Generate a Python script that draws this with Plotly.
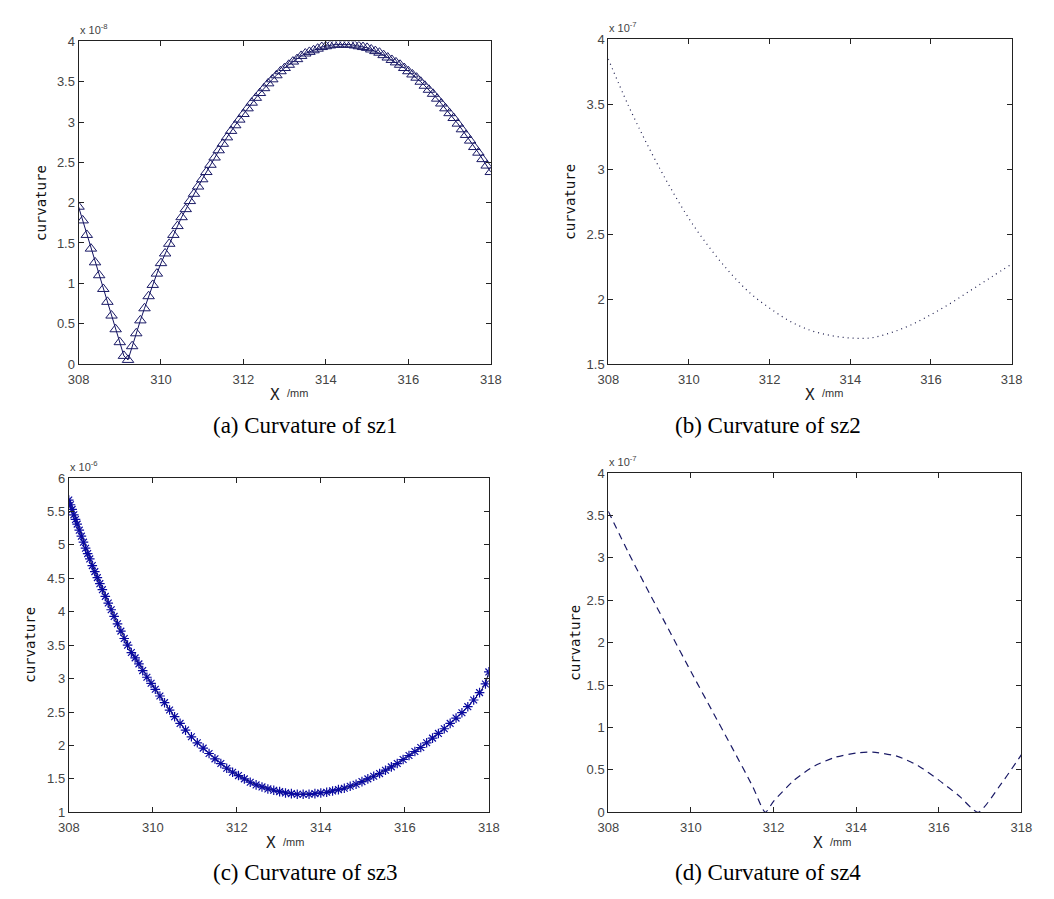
import plotly.graph_objects as go

# ---------------- data (y values in units of the axis exponent) ----------------
# (a) sz1, y in 1e-8
x_sz1 = [308.0, 308.1, 308.2, 308.3, 308.4, 308.5, 308.6, 308.7, 308.8, 308.9,
         309.0, 309.1, 309.2, 309.3, 309.4, 309.5, 309.6, 309.7, 309.8, 309.9,
         310.0, 310.1, 310.2, 310.3, 310.4, 310.5, 310.6, 310.7, 310.8, 310.9,
         311.0, 311.1, 311.2, 311.3, 311.4, 311.5, 311.6, 311.7, 311.8, 311.9,
         312.0, 312.1, 312.2, 312.3, 312.4, 312.5, 312.6, 312.7, 312.8, 312.9,
         313.0, 313.1, 313.2, 313.3, 313.4, 313.5, 313.6, 313.7, 313.8, 313.9,
         314.0, 314.1, 314.2, 314.3, 314.4, 314.5, 314.6, 314.7, 314.8, 314.9,
         315.0, 315.1, 315.2, 315.3, 315.4, 315.5, 315.6, 315.7, 315.8, 315.9,
         316.0, 316.1, 316.2, 316.3, 316.4, 316.5, 316.6, 316.7, 316.8, 316.9,
         317.0, 317.1, 317.2, 317.3, 317.4, 317.5, 317.6, 317.7, 317.8, 317.9,
         318.0]
curv_sz1 = [1.95, 1.78, 1.60, 1.43, 1.26, 1.10, 0.93, 0.77, 0.60, 0.43,
            0.27, 0.10, 0.05, 0.22, 0.38, 0.54, 0.69, 0.84, 0.98, 1.12,
            1.25, 1.37, 1.49, 1.60, 1.71, 1.82, 1.92, 2.02, 2.11, 2.20,
            2.29, 2.38, 2.47, 2.56, 2.65, 2.73, 2.81, 2.89, 2.96, 3.03,
            3.10, 3.17, 3.24, 3.30, 3.36, 3.42, 3.48, 3.53, 3.58, 3.63,
            3.67, 3.71, 3.75, 3.78, 3.82, 3.85, 3.87, 3.89, 3.91, 3.93,
            3.94, 3.95, 3.96, 3.96, 3.96, 3.96, 3.96, 3.95, 3.94, 3.93,
            3.92, 3.90, 3.88, 3.86, 3.83, 3.80, 3.77, 3.74, 3.71, 3.67,
            3.63, 3.59, 3.55, 3.50, 3.45, 3.40, 3.35, 3.29, 3.23, 3.17,
            3.11, 3.05, 2.98, 2.91, 2.84, 2.77, 2.69, 2.62, 2.54, 2.46,
            2.38]

# (b) sz2, y in 1e-7
x_sz2 = [308.0, 308.5, 309.0, 309.5, 310.0, 310.5, 311.0, 311.5, 312.0, 312.5,
         313.0, 313.5, 314.0, 314.5, 315.0, 315.5, 316.0, 316.5, 317.0, 317.5, 318.0]
curv_sz2 = [3.85, 3.49, 3.17, 2.88, 2.62, 2.40, 2.21, 2.05, 1.93, 1.83,
            1.76, 1.72, 1.70, 1.70, 1.74, 1.80, 1.88, 1.97, 2.07, 2.17, 2.27]

# (c) sz3, y in 1e-6
x_sz3 = [308.00, 308.04, 308.08, 308.12, 308.16, 308.20, 308.25, 308.30, 308.35, 308.40,
         308.45, 308.50, 308.56, 308.62, 308.68, 308.74, 308.80, 308.87, 308.94, 309.01,
         309.08, 309.16, 309.24, 309.32, 309.40, 309.49, 309.58, 309.67, 309.76, 309.86,
         309.96, 310.06, 310.17, 310.28, 310.40, 310.52, 310.65, 310.78, 310.92, 311.06,
         311.20, 311.34, 311.48, 311.62, 311.76, 311.90, 312.04, 312.18, 312.32, 312.46,
         312.60, 312.74, 312.88, 313.02, 313.16, 313.30, 313.44, 313.58, 313.72, 313.86,
         314.00, 314.14, 314.28, 314.42, 314.56, 314.70, 314.84, 314.98, 315.12, 315.26,
         315.40, 315.54, 315.68, 315.82, 315.96, 316.10, 316.24, 316.38, 316.52, 316.66,
         316.80, 316.94, 317.08, 317.22, 317.36, 317.50, 317.64, 317.78, 317.92, 318.00]
curv_sz3 = [5.67, 5.60, 5.53, 5.45, 5.38, 5.31, 5.22, 5.13, 5.04, 4.95,
            4.87, 4.79, 4.69, 4.60, 4.51, 4.42, 4.33, 4.23, 4.13, 4.03,
            3.93, 3.82, 3.71, 3.60, 3.50, 3.39, 3.31, 3.22, 3.12, 3.02,
            2.93, 2.84, 2.74, 2.64, 2.53, 2.43, 2.33, 2.23, 2.13, 2.04,
            1.96, 1.88, 1.80, 1.73, 1.66, 1.60, 1.55, 1.50, 1.45, 1.41,
            1.38, 1.35, 1.33, 1.31, 1.29, 1.28, 1.27, 1.27, 1.27, 1.28,
            1.29, 1.30, 1.32, 1.34, 1.36, 1.39, 1.42, 1.46, 1.50, 1.54,
            1.58, 1.63, 1.68, 1.73, 1.79, 1.85, 1.91, 1.97, 2.04, 2.11,
            2.18, 2.25, 2.33, 2.41, 2.49, 2.58, 2.68, 2.79, 2.92, 3.10]

# (d) sz4, y in 1e-7
x_sz4 = [308.0, 308.5, 309.0, 309.5, 310.0, 310.5, 311.0, 311.5, 311.8, 312.0,
         312.5, 313.0, 313.5, 314.0, 314.4, 315.0, 315.5, 316.0, 316.5, 316.95,
         317.5, 318.0]
curv_sz4 = [3.55, 3.05, 2.58, 2.12, 1.66, 1.21, 0.76, 0.30, 0.00, 0.13,
            0.38, 0.55, 0.65, 0.70, 0.71, 0.66, 0.55, 0.38, 0.19, 0.00,
            0.33, 0.68]

x_ticks = [308, 310, 312, 314, 316, 318]
captions = ["(a) Curvature of sz1", "(b) Curvature of sz2",
            "(c) Curvature of sz3", "(d) Curvature of sz4"]
exponents = ["-8", "-7", "-6", "-7"]
y_ranges = [[0, 4], [1.5, 4], [1, 6], [0, 4]]

# ---------------- layout geometry (pixels) ----------------
W, H = 1054, 899
boxes = [  # left, right, top, bottom
    (69, 490, 35, 363),
    (610, 1022, 33, 363),
    (59, 488, 479, 819),
    (610, 1032, 474, 819),
]
ytitle_x = [30, 571, 20, 576]
xtitle_dx = [-10, 0, -8, 3]


def px(x):
    return x / W


def py(y):
    return 1 - y / H


fig = go.Figure()

navy = "#1a1a66"
fig.add_trace(go.Scatter(x=x_sz1, y=curv_sz1, mode="lines+markers",
                         line=dict(color="#101060", width=1),
                         marker=dict(symbol="triangle-up-open", size=10,
                                     color=navy, line=dict(width=1, color=navy)),
                         xaxis="x", yaxis="y", showlegend=False))
fig.add_trace(go.Scatter(x=x_sz2, y=curv_sz2, mode="lines",
                         line=dict(color="#202050", width=1.2, dash="1px,4px", shape="spline"),
                         xaxis="x2", yaxis="y2", showlegend=False))
fig.add_trace(go.Scatter(x=x_sz3, y=curv_sz3, mode="lines+markers",
                         line=dict(color="#101040", width=1),
                         marker=dict(symbol="asterisk-open", size=8,
                                     color="#0a0aa0", line=dict(width=1.2, color="#0a0aa0")),
                         xaxis="x3", yaxis="y3", showlegend=False))
fig.add_trace(go.Scatter(x=x_sz4, y=curv_sz4, mode="lines",
                         line=dict(color="#1a1a66", width=1.2, dash="7px,5px", shape="spline",
                                   smoothing=0.6),
                         xaxis="x4", yaxis="y4", showlegend=False))

tickfont = dict(family="Liberation Sans, Arial, sans-serif", size=13, color="#444")
axis_common = dict(showline=True, linecolor="#222", linewidth=1, mirror="ticks",
                   ticks="inside", ticklen=5, tickcolor="#222", showgrid=False,
                   zeroline=False, tickfont=tickfont)

layout = dict(width=W, height=H, margin=dict(l=0, r=0, t=0, b=0),
              plot_bgcolor="white", paper_bgcolor="white")
annotations = []
for i, (l, r, t, b) in enumerate(boxes):
    sfx = "" if i == 0 else str(i + 1)
    layout["xaxis" + sfx] = dict(axis_common, domain=[px(l), px(r)], range=[308, 318],
                                 tickvals=x_ticks, anchor="y" + sfx, ticklabelstandoff=3)
    layout["yaxis" + sfx] = dict(axis_common, domain=[py(b), py(t)], range=y_ranges[i],
                                 dtick=0.5, anchor="x" + sfx)
    cx = (l + r) / 2 + xtitle_dx[i]
    # exponent label
    annotations.append(dict(x=px(l - 1), y=py(t - 3), xref="paper", yref="paper",
                            xanchor="left", yanchor="bottom", showarrow=False,
                            text="x 10<sup>" + exponents[i] + "</sup>",
                            font=dict(family="Liberation Sans, Arial, sans-serif",
                                      size=11, color="#444")))
    # x-axis title: "X" and "/mm"
    annotations.append(dict(x=px(cx), y=py(b + 31), xref="paper", yref="paper",
                            xanchor="center", yanchor="middle", showarrow=False,
                            text="X",
                            font=dict(family="DejaVu Sans Mono, monospace",
                                      size=16, color="#222")))
    annotations.append(dict(x=px(cx + 10), y=py(b + 30), xref="paper", yref="paper",
                            xanchor="left", yanchor="middle", showarrow=False,
                            text="/mm",
                            font=dict(family="Liberation Sans, Arial, sans-serif",
                                      size=11, color="#333")))
    # y-axis title
    annotations.append(dict(x=px(ytitle_x[i]), y=py((t + b) / 2), xref="paper", yref="paper",
                            xanchor="center", yanchor="middle", showarrow=False,
                            textangle=-90, text="curvature",
                            font=dict(family="DejaVu Sans Mono, monospace",
                                      size=14, color="#111")))

cap_pos = [(301, 426), (773, 426), (301, 880), (773, 880)]
for (cx, cy), txt in zip(cap_pos, captions):
    annotations.append(dict(x=px(cx), y=py(cy), xref="paper", yref="paper",
                            xanchor="center", yanchor="middle", showarrow=False,
                            text=txt,
                            font=dict(family="Liberation Serif, Times New Roman, serif",
                                      size=23, color="black")))

layout["annotations"] = annotations
fig.update_layout(**layout)
fig.write_html("out.html")
